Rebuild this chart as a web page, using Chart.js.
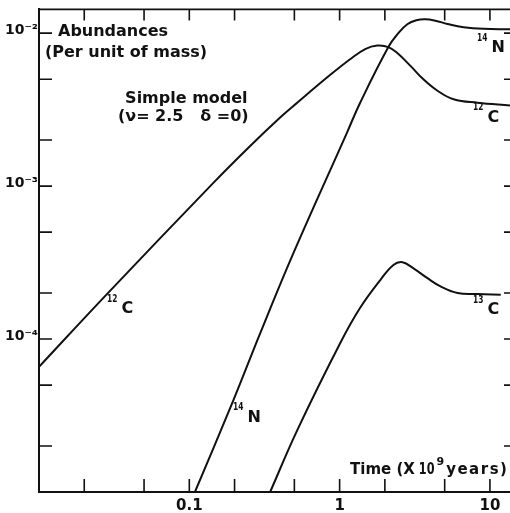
<!DOCTYPE html>
<html>
<head>
<meta charset="utf-8">
<script src="https://cdn.jsdelivr.net/npm/chart.js@4.4.1/dist/chart.umd.min.js"></script>
<style>
html, body { margin: 0; padding: 0; background: #fff; overflow: hidden; }
#wrap { width: 510px; height: 513px; position: relative; }
</style>
</head>
<body>
<div id="wrap"><canvas id="abChart"></canvas></div>
<script>
// time in 10^9 years, abundances per unit of mass
const c12Time  = [0.01, 0.0278, 0.144, 0.254, 0.402, 0.522, 0.867, 1.18, 1.48, 1.78, 2.11, 2.42, 2.96, 3.61, 4.48, 5.73, 8.28, 13.6];
const c12Abund = [6.58e-5, 1.93e-4, 1.046e-3, 1.83e-3, 2.81e-3, 3.51e-3, 5.34e-3, 6.78e-3, 7.87e-3, 8.29e-3, 8.11e-3, 7.42e-3, 6.11e-3, 4.99e-3, 4.20e-3, 3.70e-3, 3.51e-3, 3.37e-3];

const n14Time  = [0.109, 0.196, 0.296, 0.491, 1.12, 1.37, 2.11, 2.46, 2.82, 3.24, 3.72, 4.34, 5.22, 6.68, 9.08, 13.6];
const n14Abund = [1.0e-5, 3.96e-5, 1.09e-4, 3.62e-4, 2.24e-3, 3.51e-3, 8.11e-3, 1.0e-2, 1.144e-2, 1.215e-2, 1.233e-2, 1.206e-2, 1.149e-2, 1.094e-2, 1.067e-2, 1.062e-2];

const c13Time  = [0.345, 0.522, 1.01, 1.37, 1.87, 2.28, 2.62, 3.10, 3.84, 4.69, 6.09, 8.28, 11.8];
const c13Abund = [1.0e-5, 2.53e-5, 9.42e-5, 1.60e-4, 2.44e-4, 3.05e-4, 3.18e-4, 2.90e-4, 2.50e-4, 2.21e-4, 2.00e-4, 1.97e-4, 1.95e-4];

const xTicks = [0.02, 0.05, 0.1, 0.2, 0.5, 1, 2, 5, 10];
const xTickLabels = ['', '', '0.1', '', '', '1', '', '', '10'];
const yTicks = [2e-5, 5e-5, 1e-4, 2e-4, 5e-4, 1e-3, 2e-3, 5e-3, 1e-2];
const yTickLabels = ['', '', '10⁻⁴', '', '', '10⁻³', '', '', '10⁻²'];

// text placed in data coordinates
const notes = [
    { text: 'Abundances', x: 0.01338, y: 0.01015 },
    { text: '(Per unit of mass)', x: 0.01096, y: 0.00742 },
    { text: 'Simple model', x: 0.0374, y: 0.00373 },
    { text: '(ν= 2.5   δ =0)', x: 0.0335, y: 0.00285 }
];
const isoLabels = [
    { sup: '12', el: 'C', x: 0.02834, y: 1.566e-4 },
    { sup: '14', el: 'N', x: 0.1953, y: 3.07e-5 },
    { sup: '13', el: 'C', x: 7.72, y: 1.543e-4 },
    { sup: '14', el: 'N', x: 8.21, y: 7.99e-3 },
    { sup: '12', el: 'C', x: 7.72, y: 2.81e-3 }
];
const timeLabel = { x: 1.173, y: 1.39e-5 };

const FONT = 'DejaVu Sans';

function toPoints(xs, ys) {
    return xs.map((v, i) => ({ x: v, y: ys[i] }));
}

const curve = (pts) => ({
    data: pts,
    borderColor: '#111',
    borderWidth: 2,
    pointRadius: 0,
    fill: false,
    tension: 0.4
});

// narrow digits for the superscripts
function narrowText(ctx, txt, px, py, sx) {
    ctx.save();
    ctx.translate(px, py);
    ctx.scale(sx, 1);
    ctx.fillText(txt, 0, 0);
    const w = ctx.measureText(txt).width * sx;
    ctx.restore();
    return w;
}

const frameTicks = {
    id: 'frameTicks',
    afterDraw(chart) {
        const { ctx, chartArea: a, scales: { x, y } } = chart;
        ctx.save();
        ctx.strokeStyle = '#111';
        ctx.lineWidth = 1.6;
        ctx.beginPath();
        ctx.moveTo(a.left, a.top);
        ctx.lineTo(a.right, a.top);
        x.ticks.forEach(t => {
            const px = x.getPixelForValue(t.value);
            ctx.moveTo(px, a.bottom);
            ctx.lineTo(px, a.bottom - 13);
            ctx.moveTo(px, a.top);
            ctx.lineTo(px, a.top + 11);
        });
        y.ticks.forEach(t => {
            const py = y.getPixelForValue(t.value);
            ctx.moveTo(a.left, py);
            ctx.lineTo(a.left + 13, py);
            ctx.moveTo(a.right, py);
            ctx.lineTo(a.right - 6, py);
        });
        ctx.stroke();

        // texts
        ctx.fillStyle = '#111';
        ctx.textAlign = 'left';
        ctx.textBaseline = 'middle';
        ctx.font = 'bold 16px "' + FONT + '"';
        notes.forEach(n => {
            ctx.fillText(n.text, x.getPixelForValue(n.x), y.getPixelForValue(n.y));
        });

        isoLabels.forEach(l => {
            const px = x.getPixelForValue(l.x);
            const py = y.getPixelForValue(l.y);
            ctx.font = 'bold 11px "' + FONT + '"';
            const w = narrowText(ctx, l.sup, px, py - 10, 0.68);
            ctx.font = 'bold 16px "' + FONT + '"';
            ctx.fillText(l.el, px + w + 4, py);
        });

        // Time (X 10^9 years)
        let tx = x.getPixelForValue(timeLabel.x);
        const ty = y.getPixelForValue(timeLabel.y);
        ctx.font = 'bold 15px "' + FONT + '"';
        ctx.fillText('Time (X', tx, ty);
        tx += ctx.measureText('Time (X').width + 4;
        tx += narrowText(ctx, '10', tx, ty, 0.75) + 2;
        ctx.font = 'bold 11px "' + FONT + '"';
        ctx.fillText('9', tx, ty - 8);
        tx += ctx.measureText('9').width + 2;
        ctx.font = 'bold 15px "' + FONT + '"';
        ctx.letterSpacing = '1.5px';
        ctx.fillText('years)', tx, ty);
        ctx.letterSpacing = '0px';
        ctx.restore();
    }
};

const ctx = document.getElementById('abChart').getContext('2d');
const abChart = new Chart(ctx, {
    type: 'line',
    data: {
        datasets: [
            curve(toPoints(c12Time, c12Abund)),
            curve(toPoints(n14Time, n14Abund)),
            curve(toPoints(c13Time, c13Abund))
        ]
    },
    options: {
        responsive: true,
        maintainAspectRatio: false,
        animation: false,
        devicePixelRatio: 1,
        layout: { padding: { top: 6, right: 0, bottom: 0, left: 0 } },
        plugins: {
            legend: { display: false },
            tooltip: { enabled: false }
        },
        scales: {
            x: {
                type: 'logarithmic',
                min: 0.01,
                max: 13.6,
                afterBuildTicks: s => { s.ticks = xTicks.map(v => ({ value: v })); },
                afterFit: s => { s.height = 21; },
                grid: { display: false, drawTicks: false },
                border: { display: true, color: '#111', width: 2 },
                ticks: {
                    autoSkip: false,
                    maxRotation: 0,
                    padding: 5,
                    color: '#111',
                    font: { family: FONT, size: 15, weight: 'bold' },
                    callback: v => xTickLabels[xTicks.indexOf(v)]
                }
            },
            y: {
                type: 'logarithmic',
                min: 1e-5,
                max: 0.0143,
                afterBuildTicks: s => { s.ticks = yTicks.map(v => ({ value: v })); },
                afterFit: s => { s.width = 39; },
                grid: { display: false, drawTicks: false },
                border: { display: true, color: '#111', width: 2 },
                ticks: {
                    autoSkip: false,
                    padding: 1,
                    labelOffset: -3,
                    color: '#111',
                    font: { family: FONT, size: 14, weight: 'bold' },
                    callback: v => yTickLabels[yTicks.indexOf(v)]
                }
            }
        }
    },
    plugins: [frameTicks]
});
</script>
</body>
</html>
